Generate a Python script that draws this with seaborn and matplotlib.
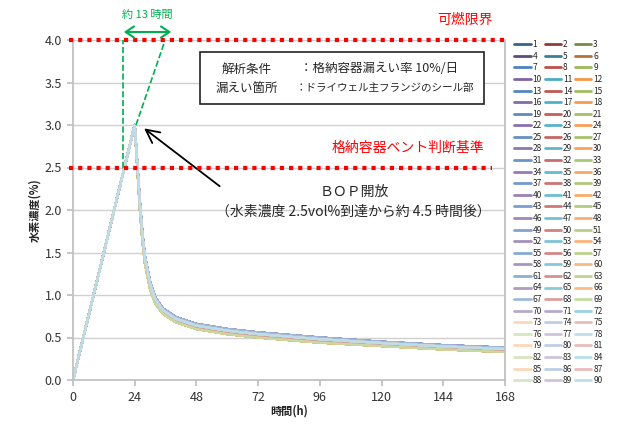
import numpy as np
import pandas as pd
import matplotlib
matplotlib.use("Agg")
import matplotlib.pyplot as plt
from matplotlib.patches import Rectangle, FancyArrowPatch
import matplotlib.colors as mcolors
import seaborn as sns

# time axis (h) and representative curves of the 90 cases
hours = [0, 24, 25, 26, 27, 28, 30, 32, 35, 40, 48, 60, 72, 96, 120, 144, 168]
conc_upper = [0.0, 3.0, 2.55, 2.1, 1.72, 1.45, 1.15, 0.97, 0.84, 0.74, 0.66, 0.6, 0.56, 0.5, 0.45, 0.41, 0.38]
conc_light = [0.0, 3.0, 2.54, 2.08, 1.7, 1.43, 1.13, 0.95, 0.82, 0.72, 0.64, 0.58, 0.54, 0.48, 0.435, 0.395, 0.365]
conc_mid = [0.0, 3.0, 2.52, 2.06, 1.68, 1.41, 1.11, 0.93, 0.8, 0.7, 0.62, 0.56, 0.52, 0.46, 0.42, 0.38, 0.35]
conc_lower = [0.0, 3.0, 2.5, 2.02, 1.64, 1.37, 1.07, 0.9, 0.78, 0.68, 0.6, 0.54, 0.5, 0.44, 0.4, 0.36, 0.33]
case_names = [str(i) for i in range(1, 91)]

flammable_limit = 4.0
vent_limit = 2.5

#%%
# long form table for seaborn
rows = []
for k, name in enumerate(case_names):
    if k >= 69:
        vals = conc_light
    else:
        vals = [conc_upper, conc_mid, conc_lower][k % 3]
    for t, v in zip(hours, vals):
        rows.append((name, t, v))
df = pd.DataFrame(rows, columns=['case', 'time', 'conc'])

# excel-ish palette: 6 base colours, shaded per block of 6 cases
base = ['#4F81BD', '#C0504D', '#9BBB59', '#8064A2', '#4BACC6', '#F79646']
palette = {}
for k, name in enumerate(case_names):
    if k < 70:
        c = np.array(mcolors.to_rgb(base[k % 6]))
    else:
        c = np.array(mcolors.to_rgb(base[(k - 72 + 5) % 6]))
    level = k // 6
    if level == 0:
        c = c * 0.75
    elif k < 66:
        c = c + (1 - c) * (0.04 * (level - 1))
    elif k < 72:
        c = c + (1 - c) * 0.45
    else:
        c = c + (1 - c) * 0.62
    palette[name] = mcolors.to_hex(c)

sns.set_theme(style="white")
plt.rcParams['font.family'] = ['Noto Sans CJK JP', 'DejaVu Sans']

W, H = 617, 426
fig = plt.figure(figsize=(W / 100, H / 100), dpi=100)
ax = fig.add_axes([73 / W, 1 - 380 / H, 432 / W, 340 / H])

def fx(x):
    return x / W

def fy(y):
    return 1 - y / H

sns.lineplot(data=df, x='time', y='conc', hue='case', palette=palette,
             hue_order=case_names, lw=1.5, ax=ax, legend=True)

ax.set_xlim(0, 168)
ax.set_ylim(0, 4.0)
ax.set_xticks(range(0, 169, 24))
ax.set_yticks(np.arange(0, 4.01, 0.5))
ax.set_yticklabels(['%.1f' % v for v in np.arange(0, 4.01, 0.5)])
ax.tick_params(labelsize=9, length=4, color='#bfbfbf', colors='#333333', pad=4)
ax.tick_params(axis='both', which='both', bottom=True, left=True)
ax.yaxis.grid(True, color='#d0d0d0', lw=1)
ax.set_axisbelow(True)
for s in ['left', 'bottom', 'right']:
    ax.spines[s].set_color('#bfbfbf')
ax.spines['top'].set_visible(False)
ax.set_xlabel('時間(h)', fontsize=8, fontweight='bold', labelpad=0)
ax.set_ylabel('水素濃度(%)', fontsize=8, fontweight='bold', labelpad=2)

# limit lines
ax.axhline(flammable_limit, xmin=-0.01, xmax=1.0, color='red', lw=3,
           ls=(0, (1, 1.2)), clip_on=False, zorder=5)
ax.axhline(vent_limit, xmin=-0.01, xmax=0.97, color='red', lw=3,
           ls=(0, (1, 1.2)), clip_on=False, zorder=5)

# green guide lines
green = '#00B050'
ax.plot([19.5, 19.5], [2.5, 4.0], color=green, ls='--', lw=1.2, zorder=4)
ax.plot([24.5, 35.5], [3.0, 3.97], color=green, ls='--', lw=1.2, zorder=4)
fig.patches.append(FancyArrowPatch(
    (fx(121), fy(32)), (fx(174), fy(32)), transform=fig.transFigure,
    arrowstyle='<->,head_length=6,head_width=4', color=green, lw=1.5))
fig.text(fx(147), fy(15), '約 13 時間', color=green, fontsize=8, ha='center', va='center')

# arrow to the peak
ax.annotate('', xy=(26.8, 2.98), xytext=(57.9, 2.26),
            arrowprops=dict(arrowstyle='->,head_length=0.8,head_width=0.4', color='black', lw=1.3))

fig.text(fx(465), fy(20), '可燃限界', color='red', fontsize=10, ha='center', va='center')
fig.text(fx(408), fy(148), '格納容器ベント判断基準', color='red', fontsize=10, ha='center', va='center')
fig.text(fx(354), fy(192), 'ＢＯＰ開放', fontsize=10, ha='center', va='center')
fig.text(fx(353), fy(212), '（水素濃度 2.5vol%到達から約 4.5 時間後）', fontsize=10,
         ha='center', va='center')

# condition box
fig.patches.append(Rectangle((fx(200), fy(104)), fx(284), 52 / H, transform=fig.transFigure,
                             fill=True, facecolor='white', edgecolor='#222222', lw=1.2, zorder=3))
fig.text(fx(247), fy(69), '解析条件', fontsize=9, ha='center', va='center', zorder=4)
fig.text(fx(247), fy(88), '漏えい箇所', fontsize=9, ha='center', va='center', zorder=4)
fig.text(fx(300), fy(69), '：格納容器漏えい率 10%/日', fontsize=9, ha='left', va='center', zorder=4)
fig.text(fx(296), fy(88), '：ドライウェル主フランジのシール部', fontsize=7.6, ha='left', va='center', zorder=4)

# legend, 3 columns filled row-wise
handles, labels = ax.get_legend_handles_labels()
ax.get_legend().remove()
by_label = dict(zip(labels, handles))
order = [case_names[3 * r + c] for c in range(3) for r in range(30)]
for h in handles:
    h.set_linewidth(2)
fig.legend([by_label[n] for n in order], order,
           loc='upper left', bbox_to_anchor=(fx(510), fy(36)), ncol=3, frameon=False,
           fontsize=6, handlelength=2.0, handletextpad=0.2, columnspacing=0.3,
           labelspacing=0.31, borderpad=0)

fig.savefig('out.png', dpi=100)
